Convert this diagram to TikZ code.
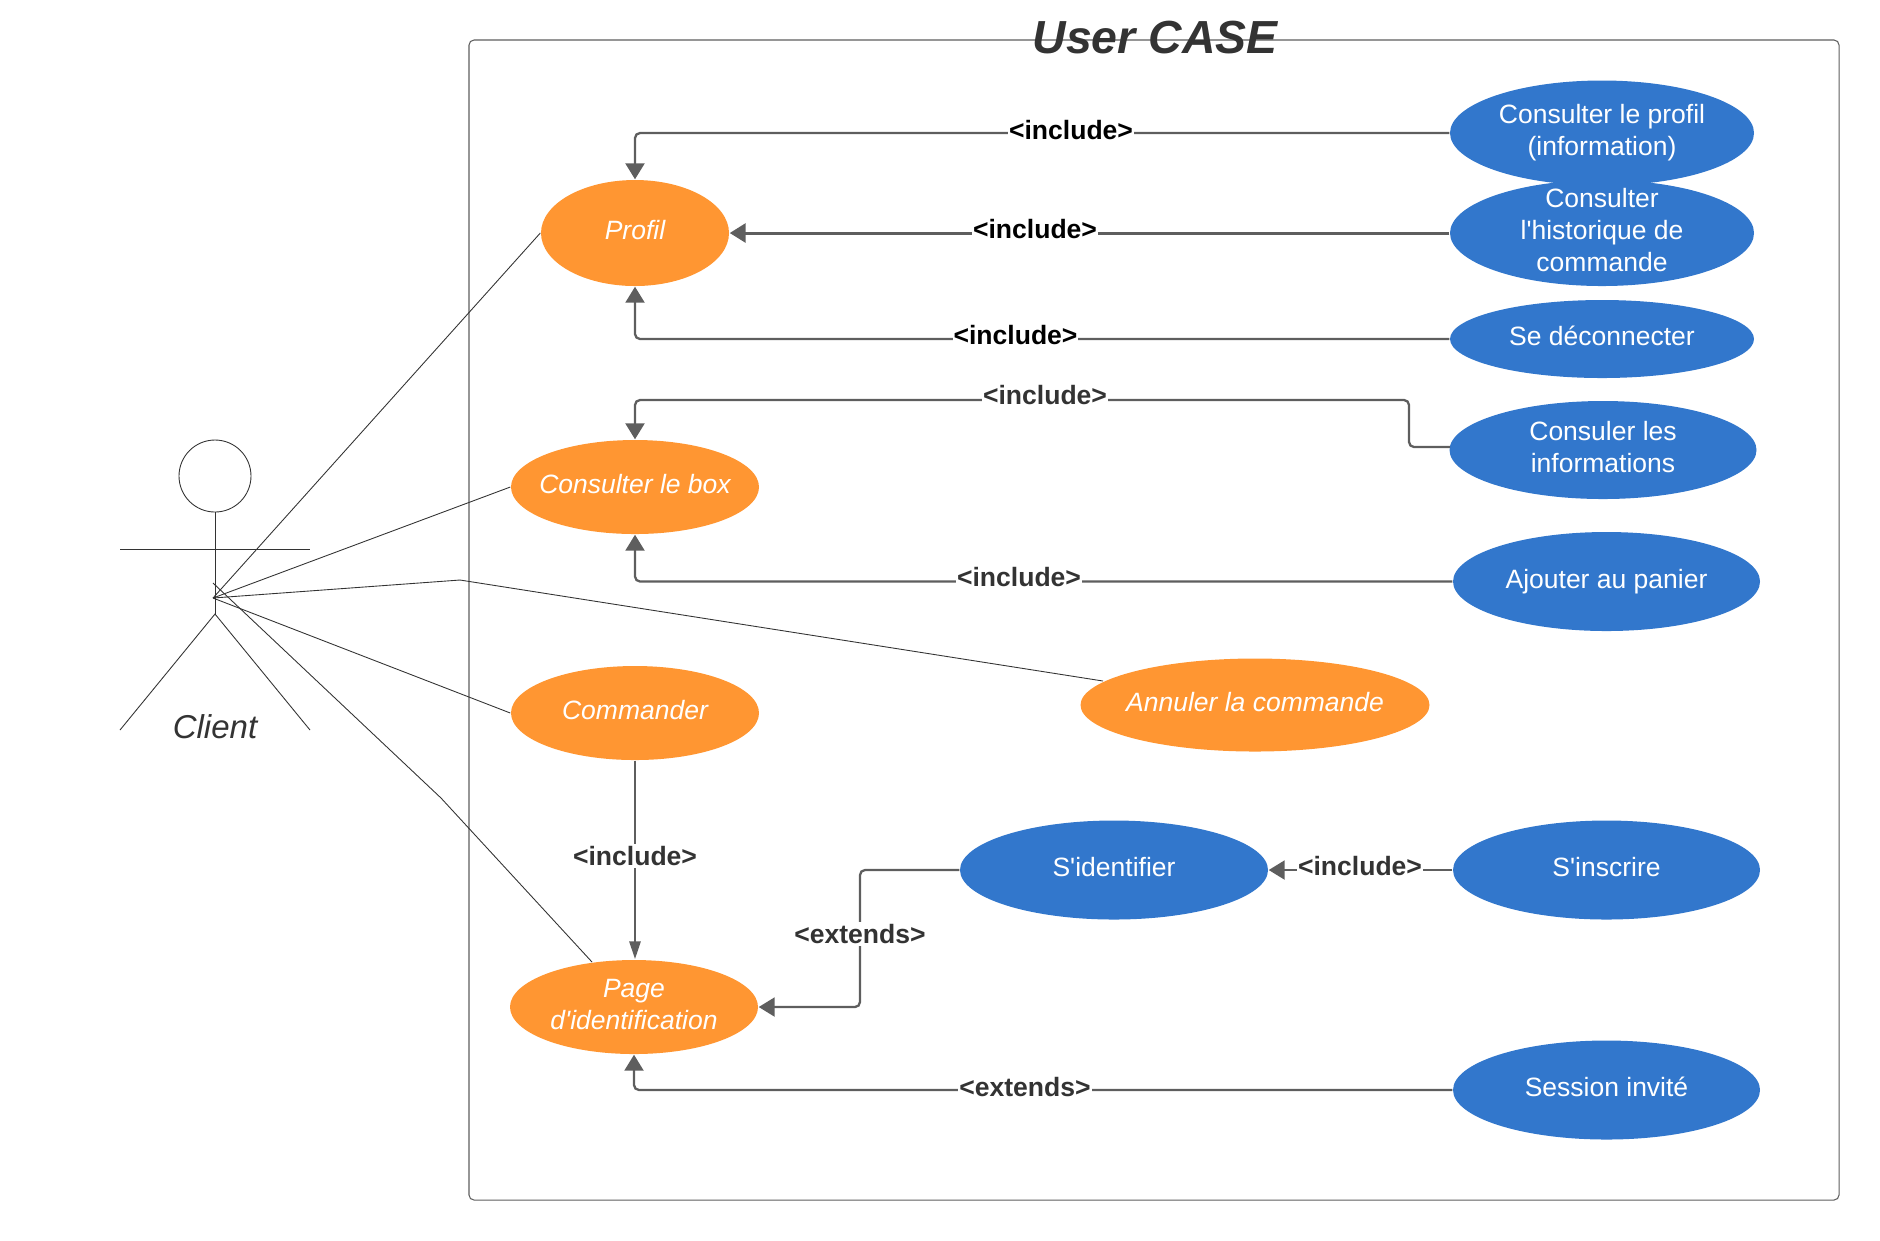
\documentclass[tikz,border=0pt]{standalone}
\usepackage{fontspec}
\setmainfont{Liberation Sans}[Ligatures=TeXOff]
\usetikzlibrary{arrows.meta}
\usetikzlibrary{shapes.geometric}

\definecolor{caseorange}{HTML}{FF9632}
\definecolor{caseblue}{HTML}{3277CC}
\definecolor{linegray}{HTML}{5E5E5E}
\definecolor{textgray}{HTML}{333333}

% the text must not make the ellipse grow
\newcommand{\casetext}[1]{\smash{\makebox[0pt]{\raisebox{-2.1pt}{\begin{tabular}{@{}c@{}}#1\end{tabular}}}}}

\tikzset{
    usecase/.style = {ellipse, inner sep = 0pt, text = white, font = \fontsize{7.54}{9.1}\selectfont},
    orangecase/.style = {usecase, fill = caseorange, font = \fontsize{7.54}{9.1}\selectfont\itshape},
    bluecase/.style = {usecase, fill = caseblue},
    link/.style = {draw = linegray, line width = .65pt, rounded corners = .05cm},
    linkto/.style = {link, -{Triangle[length = .16cm, width = .19cm]}},
    tag/.style = {fill = white, inner xsep = .01cm, inner ysep = .025cm, text = textgray, font = \fontsize{7.55}{9}\selectfont\bfseries},
    blacktag/.style = {tag, text = black},
    actorline/.style = {draw = textgray, line width = .25pt},
}

\begin{document}
\begin{tikzpicture}
    \useasboundingbox (0,0) rectangle (18.8,-12.4);

    % system frame
    \draw[draw = linegray, line width = .3pt, rounded corners = .05cm] (4.69,-.4) rectangle (18.39,-12);
    \node (title) at (11.55,-.38) {\fontsize{13.2}{15}\selectfont\bfseries\itshape\textcolor{textgray}{User CASE}};

    % actor
    \draw[actorline] (2.15,-4.76) ellipse (.36 and .36);
    \coordinate (head) at (2.15,-5.12);
    \coordinate (hip) at (2.15,-6.14);
    \coordinate (armL) at (1.2,-5.49);
    \coordinate (armR) at (3.1,-5.49);
    \coordinate (legL) at (1.2,-7.3);
    \coordinate (legR) at (3.1,-7.3);
    \coordinate (hub) at (2.13,-5.98);
    \coordinate (hubtop) at (2.13,-5.83);
    \draw[actorline] (head) -- (hip);
    \draw[actorline] (armL) -- (armR);
    \draw[actorline] (legL) -- (hip) -- (legR);
    \node (client) at (2.15,-7.27) {\fontsize{9.4}{11}\selectfont\itshape\textcolor{textgray}{Client}};

    % main use cases
    \node[orangecase, minimum width = 1.88cm, minimum height = 1.06cm] (profil) at (6.35,-2.33) {\casetext{Profil}};
    \node[orangecase, minimum width = 2.48cm, minimum height = .94cm] (box) at (6.35,-4.87) {\casetext{Consulter le box}};
    \node[orangecase, minimum width = 2.48cm, minimum height = .94cm] (commander) at (6.35,-7.13) {\casetext{Commander}};
    \node[orangecase, minimum width = 2.48cm, minimum height = .94cm] (page) at (6.34,-10.07) {\casetext{Page\\d'identification}};
    \node[orangecase, minimum width = 3.49cm, minimum height = .93cm] (annuler) at (12.55,-7.05) {\casetext{Annuler la commande}};

    % secondary use cases
    \node[bluecase, minimum width = 3.04cm, minimum height = 1.05cm] (infoprofil) at (16.02,-1.33) {\casetext{Consulter le profil\\(information)}};
    \node[bluecase, minimum width = 3.04cm, minimum height = 1.06cm] (historique) at (16.02,-2.33) {\casetext{Consulter\\l'historique de\\commande}};
    \node[bluecase, minimum width = 3.04cm, minimum height = .78cm] (deconnecter) at (16.02,-3.39) {\casetext{Se déconnecter}};
    \node[bluecase, minimum width = 3.07cm, minimum height = .98cm] (informations) at (16.03,-4.5) {\casetext{Consuler les\\informations}};
    \node[bluecase, minimum width = 3.07cm, minimum height = .99cm] (panier) at (16.065,-5.815) {\casetext{Ajouter au panier}};
    \node[bluecase, minimum width = 3.08cm, minimum height = .99cm] (identifier) at (11.14,-8.7) {\casetext{S'identifier}};
    \node[bluecase, minimum width = 3.07cm, minimum height = .99cm] (inscrire) at (16.065,-8.7) {\casetext{S'inscrire}};
    \node[bluecase, minimum width = 3.07cm, minimum height = .99cm] (invite) at (16.065,-10.9) {\casetext{Session invité}};

    % actor to use cases
    \coordinate (annulerbend) at (4.6,-5.8);
    \coordinate (annulerend) at (11.03,-6.81);
    \coordinate (pagebend) at (4.41,-7.98);
    \coordinate (pageend) at (5.92,-9.62);
    \draw[actorline] (hub) -- (profil.west);
    \draw[actorline] (hub) -- (box.west);
    \draw[actorline] (hub) -- (annulerbend) -- (annulerend);
    \draw[actorline] (hub) -- (commander.west);
    \draw[actorline] (hubtop) -- (pagebend) -- (pageend);

    % includes and extends
    \draw[linkto] (infoprofil.west) -| (profil.north);
    \draw[linkto, line width = .85pt] (historique.west) -- (profil.east);
    \draw[linkto] (deconnecter.west) -| (profil.south);
    \coordinate (infostart) at (14.5,-4.47);
    \coordinate (infobend) at (14.09,-4);
    \draw[linkto] (infostart) -| (infobend) -| (box.north);
    \draw[linkto] (panier.west) -| (box.south);
    \draw[link, line width = .8pt, -{Triangle[length = .18cm, width = .11cm]}] (commander.south) -- (commander.south |- page.north);
    \coordinate (identbend) at (8.6,-8.7);
    \draw[linkto] (identifier.west) -- (identbend) |- (page.east);
    \draw[linkto] (inscrire.west) -- (identifier.east);
    \draw[linkto] (invite.west) -| (page.south);

    \node[blacktag] (tagA) at (10.71,-1.3) {<include>};
    \node[blacktag] (tagB) at (10.35,-2.29) {<include>};
    \node[blacktag] (tagC) at (10.155,-3.35) {<include>};
    \node[tag] (tagD) at (10.45,-3.95) {<include>};
    \node[tag] (tagE) at (10.19,-5.77) {<include>};
    \node[tag] (tagF) at (6.35,-8.56) {<include>};
    \node[tag] (tagG) at (8.6,-9.34) {<extends>};
    \node[tag] (tagH) at (13.6,-8.66) {<include>};
    \node[tag] (tagI) at (10.25,-10.87) {<extends>};
\end{tikzpicture}
\end{document}
